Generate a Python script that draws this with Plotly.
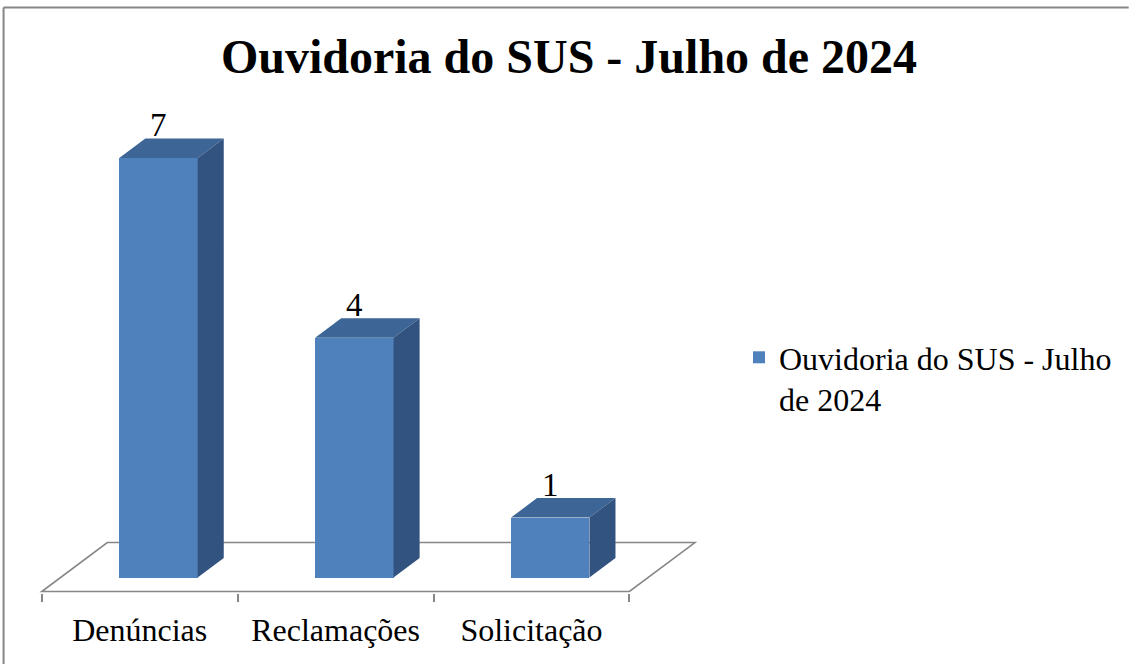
import plotly.graph_objects as go

# ---------------- data ----------------
categories = ["Denúncias", "Reclamações", "Solicitação"]
values = [7, 4, 1]
series_name = "Ouvidoria do SUS - Julho de 2024"
title_text = "Ouvidoria do SUS - Julho de 2024"

# ---------------- layout constants (pixels) ----------------
W, H = 1132, 664
PX_CAT = 197.33          # pixels per category
PX_VAL = 60.0            # pixels per value unit
FLOOR_LEFT_PX = 42.0     # pixel x of floor front-left corner (x = -0.5)
FLOOR_FRONT_PX = 592.0   # pixel y of floor front edge (y = 0)
X_MIN, X_MAX = -0.55, 3.0
Y_MIN, Y_MAX = -0.025, 8.0

# oblique depth vector (full floor depth) in axis units
DEPTH_DX = 66.0 / PX_CAT
DEPTH_DY = 49.0 / PX_VAL
D_FRONT, D_BACK = 0.286, 0.684   # bar front/back depth fractions
BAR_W = 79.0 / PX_CAT

FRONT_COLOR = "#4F81BD"
TOP_COLOR = "#3D6696"
SIDE_COLOR = "#32537F"
GRAY = "#868686"
FONT = "Liberation Serif, Times New Roman, serif"

# margins derived so that axis units map to the reference pixels
m_l = FLOOR_LEFT_PX + (X_MIN + 0.5) * PX_CAT
plot_w = (X_MAX - X_MIN) * PX_CAT
m_r = W - m_l - plot_w
m_b = H - FLOOR_FRONT_PX + Y_MIN * PX_VAL
plot_h = (Y_MAX - Y_MIN) * PX_VAL
m_t = H - m_b - plot_h

def px_to_paper(px, py):
    return (px - m_l) / plot_w, (H - m_b - py) / plot_h

idx = list(range(len(categories)))
xc = [i + DEPTH_DX * D_FRONT for i in idx]
base = DEPTH_DY * D_FRONT
ddx = DEPTH_DX * (D_BACK - D_FRONT)
ddy = DEPTH_DY * (D_BACK - D_FRONT)

fig = go.Figure()

# front faces
fig.add_trace(go.Bar(
    x=xc, y=values, base=[base] * len(values), width=BAR_W,
    marker=dict(color=FRONT_COLOR, line=dict(width=0)),
    name=series_name.replace(" - Julho de", " - Julho<br>de"),
    showlegend=True, hoverinfo="skip",
))

# top faces and side faces
tx, ty, sx, sy = [], [], [], []
for x, v in zip(xc, values):
    l, r = x - BAR_W / 2, x + BAR_W / 2
    top = base + v
    tx += [l, r, r + ddx, l + ddx, l, None]
    ty += [top, top, top + ddy, top + ddy, top, None]
    sx += [r, r, r + ddx, r + ddx, r, None]
    sy += [base, top, top + ddy, base + ddy, base, None]

fig.add_trace(go.Scatter(x=tx, y=ty, mode="lines", fill="toself",
                         fillcolor=TOP_COLOR, line=dict(width=0, color=TOP_COLOR),
                         showlegend=False, hoverinfo="skip"))
fig.add_trace(go.Scatter(x=sx, y=sy, mode="lines", fill="toself",
                         fillcolor=SIDE_COLOR, line=dict(width=0, color=SIDE_COLOR),
                         showlegend=False, hoverinfo="skip"))

# floor (drawn below the traces)
n = len(categories)
fx = [-0.5, n - 0.5, n - 0.5 + DEPTH_DX, -0.5 + DEPTH_DX]
fy = [0, 0, DEPTH_DY, DEPTH_DY]
path = "M {} {} L {} {} L {} {} L {} {} Z".format(fx[0], fy[0], fx[1], fy[1], fx[2], fy[2], fx[3], fy[3])
shapes = [dict(type="path", path=path, xref="x", yref="y", layer="below",
               fillcolor="white", line=dict(color=GRAY, width=1.6))]

# chart border (top and left)
bx0, by0 = px_to_paper(3.5, 7.5)
bx1, _ = px_to_paper(W + 5, 7.5)
_, by1 = px_to_paper(3.5, H + 5)
shapes.append(dict(type="line", xref="paper", yref="paper", x0=bx0, y0=by0, x1=bx1, y1=by0,
                   line=dict(color=GRAY, width=2)))
shapes.append(dict(type="line", xref="paper", yref="paper", x0=bx0, y0=by0, x1=bx0, y1=by1,
                   line=dict(color=GRAY, width=2)))

# data labels
annotations = []
for x, v in zip(xc, values):
    annotations.append(dict(x=x, y=base + v + ddy, xref="x", yref="y", text=str(v),
                            showarrow=False, yanchor="bottom", xanchor="center", yshift=-7,
                            font=dict(family=FONT, size=33, color="black")))

fig.update_layout(
    width=W, height=H,
    margin=dict(l=m_l, r=m_r, t=m_t, b=m_b, pad=0),
    paper_bgcolor="white", plot_bgcolor="white",
    font=dict(family=FONT, color="black"),
    title=dict(text=title_text, x=569 / W, xref="container", xanchor="center",
               y=1 - 56 / H, yref="container", yanchor="middle",
               font=dict(family=FONT, size=48, color="black", weight="bold")),
    xaxis=dict(range=[X_MIN, X_MAX], tickmode="array", tickvals=idx, ticktext=categories,
               ticks="", showgrid=False, zeroline=False, showline=False,
               minor=dict(tickmode="array", tickvals=[i - 0.5 for i in range(n + 1)],
                          ticks="outside", ticklen=8, tickcolor=GRAY, tickwidth=1.6,
                          showgrid=False),
               tickfont=dict(family=FONT, size=32, color="black"),
               ticklabelstandoff=15, fixedrange=True),
    yaxis=dict(range=[Y_MIN, Y_MAX], visible=False, showgrid=False, zeroline=False,
               fixedrange=True),
    showlegend=True,
    legend=dict(x=739 / W, xref="container", xanchor="left",
                y=1 - 330 / H, yref="container", yanchor="top", valign="top",
                font=dict(family=FONT, size=32, color="black"),
                bgcolor="rgba(0,0,0,0)", itemclick=False, itemdoubleclick=False),
    shapes=shapes,
    annotations=annotations,
    bargap=0,
)

fig.write_html("out.html")
